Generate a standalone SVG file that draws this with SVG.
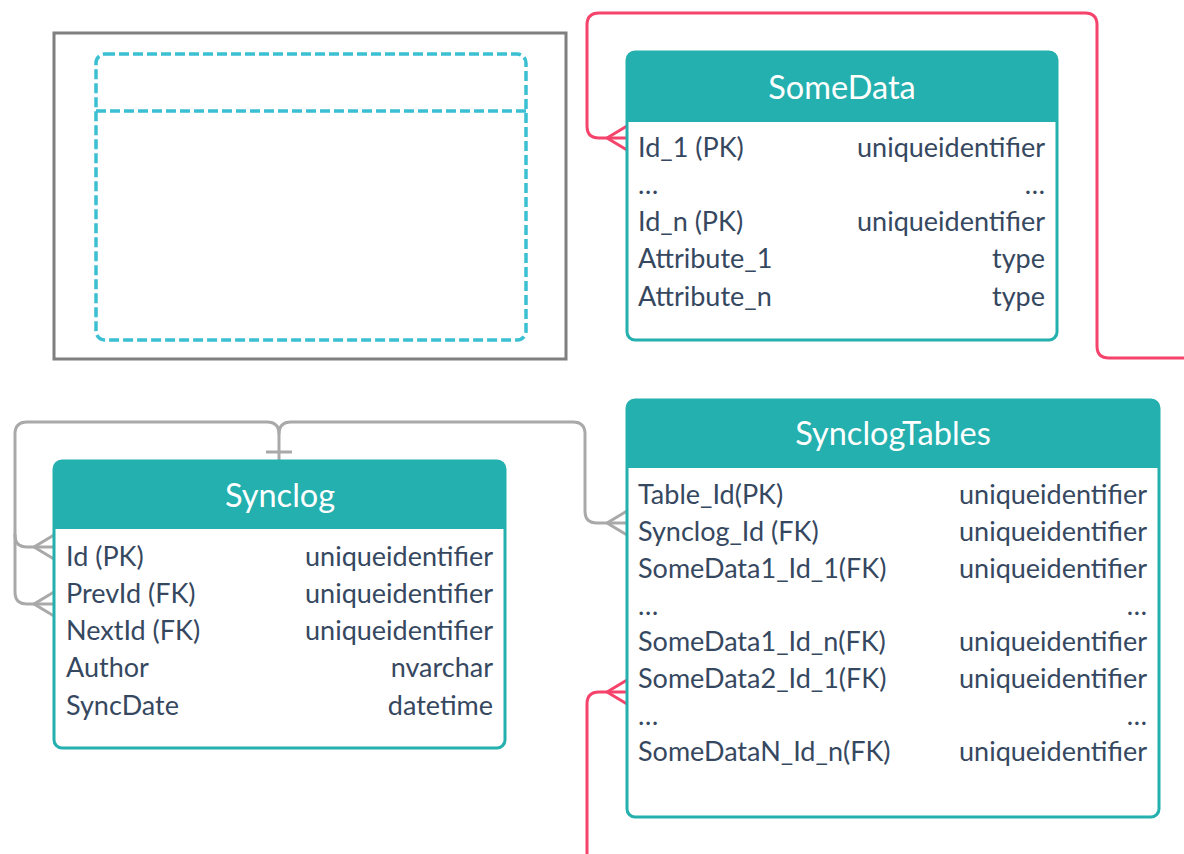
<svg xmlns="http://www.w3.org/2000/svg" width="1184" height="854" viewBox="0 0 1184 854">
  <defs>
    <style>
      .frame { fill: #ffffff; stroke: #7f7f7f; stroke-width: 3; }
      .ghost { fill: none; stroke: #3bbfd2; stroke-width: 3.5; stroke-dasharray: 10 4; }
      .body { fill: #ffffff; stroke: #24b0ae; stroke-width: 3; }
      .head { fill: #24b0ae; }
      .title { font-family: Lato, "Liberation Sans", sans-serif; font-size: 32.5px; fill: #ffffff; text-anchor: middle; }
      .col { font-family: Lato, "Liberation Sans", sans-serif; font-size: 27px; fill: #36485f; }
      .type { font-family: Lato, "Liberation Sans", sans-serif; font-size: 27px; fill: #36485f; text-anchor: end; }
      .rel-gray { fill: none; stroke: #a9a9a9; stroke-width: 3; }
      .rel-pink { fill: none; stroke: #f5436c; stroke-width: 3; }
    </style>
  </defs>

  <!-- empty placeholder frame with a dashed table outline -->
  <g id="placeholder">
    <rect class="frame" x="54" y="33" width="512" height="326"/>
    <rect class="ghost" x="96" y="54" width="430" height="286" rx="9"/>
    <line class="ghost" x1="96" y1="111" x2="526" y2="111"/>
  </g>

  <!-- relationship lines -->
  <g id="connectors">
    <!-- SomeData relation leaving the canvas to the right -->
    <path class="rel-pink" d="M1184,358 H1109 Q1097,358 1097,346 V25 Q1097,13 1085,13 H599 Q587,13 587,25 V126 Q587,138 599,138 H627"/>
    <path class="rel-pink" d="M607,138 L627,126 M607,138 L627,150"/>
    <!-- SynclogTables relation entering from below -->
    <path class="rel-pink" d="M587,854 V704 Q587,692 599,692 H627"/>
    <path class="rel-pink" d="M607,692 L627,680 M607,692 L627,704"/>
    <!-- Synclog self references -->
    <path class="rel-gray" d="M279,460 V434 Q279,422 267,422 H27 Q15,422 15,434 V535 Q15,547 27,547 H54"/>
    <path class="rel-gray" d="M15,534 V592 Q15,604 27,604 H54"/>
    <path class="rel-gray" d="M34,547 L54,535 M34,547 L54,559"/>
    <path class="rel-gray" d="M34,604 L54,592 M34,604 L54,616"/>
    <line class="rel-gray" x1="266" y1="452" x2="292" y2="452"/>
    <!-- Synclog to SynclogTables -->
    <path class="rel-gray" d="M279,434 Q279,422 291,422 H573 Q585,422 585,434 V511 Q585,523 597,523 H627"/>
    <path class="rel-gray" d="M607,523 L627,511 M607,523 L627,535"/>
  </g>

  <g id="SomeData">
    <rect class="body" x="627" y="52" width="430" height="288" rx="8"/>
    <path class="head" d="M627,122 V60 Q627,52 635,52 H1049 Q1057,52 1057,60 V122 Z"/>
    <text class="title" x="842" y="99">SomeData</text>
    <text class="col" x="638" y="157">Id_1 (PK)</text>
    <text class="type" x="1045" y="157">uniqueidentifier</text>
    <text class="col" x="638" y="194">…</text>
    <text class="type" x="1045" y="194">…</text>
    <text class="col" x="638" y="231">Id_n (PK)</text>
    <text class="type" x="1045" y="231">uniqueidentifier</text>
    <text class="col" x="638" y="268">Attribute_1</text>
    <text class="type" x="1045" y="268">type</text>
    <text class="col" x="638" y="306">Attribute_n</text>
    <text class="type" x="1045" y="306">type</text>
  </g>

  <g id="Synclog">
    <rect class="body" x="54" y="461" width="451" height="287" rx="8"/>
    <path class="head" d="M54,529 V469 Q54,461 62,461 H497 Q505,461 505,469 V529 Z"/>
    <text class="title" x="280" y="507">Synclog</text>
    <text class="col" x="66" y="566">Id (PK)</text>
    <text class="type" x="493" y="566">uniqueidentifier</text>
    <text class="col" x="66" y="603">PrevId (FK)</text>
    <text class="type" x="493" y="603">uniqueidentifier</text>
    <text class="col" x="66" y="640">NextId (FK)</text>
    <text class="type" x="493" y="640">uniqueidentifier</text>
    <text class="col" x="66" y="677">Author</text>
    <text class="type" x="493" y="677">nvarchar</text>
    <text class="col" x="66" y="715">SyncDate</text>
    <text class="type" x="493" y="715">datetime</text>
  </g>

  <g id="SynclogTables">
    <rect class="body" x="627" y="400" width="532" height="417" rx="8"/>
    <path class="head" d="M627,468 V408 Q627,400 635,400 H1151 Q1159,400 1159,408 V468 Z"/>
    <text class="title" x="893" y="445">SynclogTables</text>
    <text class="col" x="638" y="504">Table_Id(PK)</text>
    <text class="type" x="1147" y="504">uniqueidentifier</text>
    <text class="col" x="638" y="541">Synclog_Id (FK)</text>
    <text class="type" x="1147" y="541">uniqueidentifier</text>
    <text class="col" x="638" y="578">SomeData1_Id_1(FK)</text>
    <text class="type" x="1147" y="578">uniqueidentifier</text>
    <text class="col" x="638" y="615">…</text>
    <text class="type" x="1147" y="615">…</text>
    <text class="col" x="638" y="651">SomeData1_Id_n(FK)</text>
    <text class="type" x="1147" y="651">uniqueidentifier</text>
    <text class="col" x="638" y="688">SomeData2_Id_1(FK)</text>
    <text class="type" x="1147" y="688">uniqueidentifier</text>
    <text class="col" x="638" y="725">…</text>
    <text class="type" x="1147" y="725">…</text>
    <text class="col" x="638" y="761">SomeDataN_Id_n(FK)</text>
    <text class="type" x="1147" y="761">uniqueidentifier</text>
  </g>
</svg>
